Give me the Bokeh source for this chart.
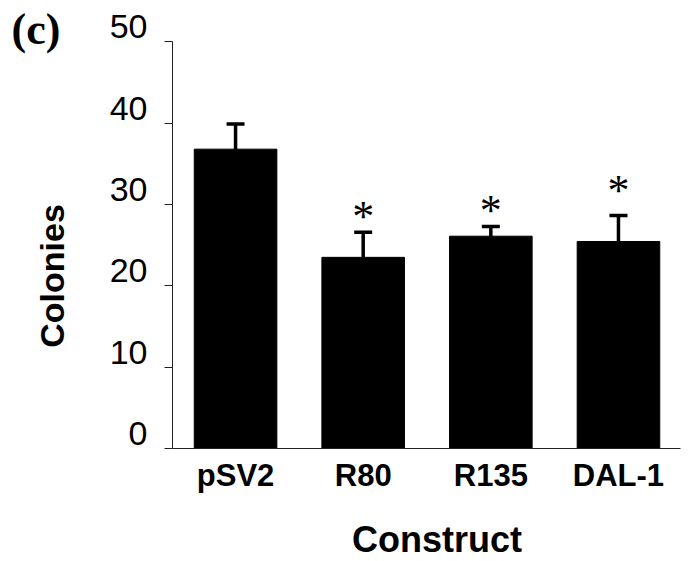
import math
from bokeh.plotting import figure
from bokeh.layouts import row
from bokeh.models import (LinearAxis, Range1d, FixedTicker, Whisker,
                          TeeHead, ColumnDataSource)
from bokeh.core.properties import value
from bokeh.embed import file_html
from bokeh.resources import INLINE

# ---- data ----
constructs = ["pSV2", "R80", "R135", "DAL-1"]
colonies = [36.8, 23.5, 26.1, 25.45]
errors = [3.1, 3.1, 1.2, 3.2]
star_constructs = ["R80", "R135", "DAL-1"]
star_levels = [29.3, 30.0, 32.5]
y_ticks = [0, 10, 20, 30, 40, 50]
panel_tag = "(c)"
y_title = "Colonies"
x_title = "Construct"

# ---- geometry / style (pixels from the top-left of the picture) ----
H = 560
LEFT_W = 100
MAIN_W = 590
FRAME_TOP, FRAME_BOTTOM = 10, 448
FRAME_LEFT, FRAME_RIGHT = 172, 680
PX_PER_UNIT = (447.7 - 41.0) / 50
Y_MAX = (FRAME_BOTTOM - FRAME_TOP) / PX_PER_UNIT
LABEL_SHIFT = 15 / PX_PER_UNIT          # y tick labels sit above their ticks
X0, X1 = -0.494, 3.486
PX_PER_X = (FRAME_RIGHT - FRAME_LEFT) / (X1 - X0)
XTITLE_SHIFT = 10.5 / PX_PER_X
AX_COLOR = "#222222"

x_pos = list(range(len(constructs)))
upper = [c + e for c, e in zip(colonies, errors)]

# ---------------- left strip with panel tag and y title ----------------
left = figure(width=LEFT_W, height=H,
              frame_width=LEFT_W, frame_height=FRAME_BOTTOM - FRAME_TOP,
              x_range=Range1d(0, LEFT_W),
              y_range=Range1d(FRAME_BOTTOM, FRAME_TOP),   # value = px from top
              x_axis_type=None, y_axis_type=None,
              output_backend="svg", toolbar_location=None,
              min_border_left=0, min_border_right=0,
              min_border_top=FRAME_TOP, min_border_bottom=H - FRAME_BOTTOM)
left.title.visible = False
left.grid.visible = False
left.outline_line_color = None
left.background_fill_color = "white"
left.border_fill_color = "white"
left.text(x=[11], y=[28.5], text=[panel_tag], text_font=value("Liberation Serif"),
          text_font_style="bold", text_font_size="44px", text_align="left",
          text_baseline="middle", text_color="black")
left.text(x=[51.7], y=[275.5], text=[y_title], angle=math.pi / 2,
          text_font=value("Liberation Sans"), text_font_style="bold",
          text_font_size="34px", text_align="center", text_baseline="middle",
          text_color="black")

# ---------------- main chart ----------------
p = figure(width=MAIN_W, height=H,
           frame_width=FRAME_RIGHT - FRAME_LEFT,
           frame_height=FRAME_BOTTOM - FRAME_TOP,
           x_range=Range1d(X0, X1), y_range=Range1d(0, Y_MAX),
           output_backend="svg", toolbar_location=None,
           min_border_left=FRAME_LEFT - LEFT_W,
           min_border_right=LEFT_W + MAIN_W - FRAME_RIGHT,
           min_border_top=FRAME_TOP, min_border_bottom=H - FRAME_BOTTOM)
p.title.visible = False
p.xgrid.visible = False
p.ygrid.visible = False
p.outline_line_color = None
p.background_fill_color = "white"
p.border_fill_color = "white"

# tick-only y axis
ya = p.yaxis[0]
ya.ticker = FixedTicker(ticks=y_ticks)
ya.bounds = (0, 50)
ya.major_tick_out = 8
ya.major_tick_in = 0
ya.minor_tick_line_color = None
ya.axis_line_color = AX_COLOR
ya.major_tick_line_color = AX_COLOR
ya.major_label_overrides = {t: "" for t in y_ticks}
ya.major_label_text_font_size = "0px"
ya.major_label_standoff = 0

# label-only y axis (shifted up)
p.extra_y_ranges = {"labels": Range1d(-LABEL_SHIFT, Y_MAX - LABEL_SHIFT)}
yb = LinearAxis(y_range_name="labels", ticker=FixedTicker(ticks=y_ticks))
yb.axis_line_color = None
yb.major_tick_line_color = None
yb.minor_tick_line_color = None
yb.major_tick_out = 0
yb.major_tick_in = 0
yb.major_label_standoff = 17
yb.major_label_text_font = "Liberation Sans"
yb.major_label_text_font_size = "34px"
yb.major_label_text_color = "black"
p.add_layout(yb, "left")

# x axis with category names
xa = p.xaxis[0]
xa.ticker = FixedTicker(ticks=x_pos)
xa.major_label_overrides = {i: n for i, n in zip(x_pos, constructs)}
xa.major_tick_line_color = None
xa.minor_tick_line_color = None
xa.major_tick_out = 0
xa.major_tick_in = 0
xa.axis_line_color = AX_COLOR
xa.major_label_standoff = 9
xa.major_label_text_font = "Liberation Sans"
xa.major_label_text_font_style = "bold"
xa.major_label_text_font_size = "31px"
xa.major_label_text_color = "black"

# x title as a second below axis (slightly right of centre, as in the reference)
p.extra_x_ranges = {"xtitle": Range1d(X0 - XTITLE_SHIFT, X1 - XTITLE_SHIFT)}
xt = LinearAxis(x_range_name="xtitle", ticker=FixedTicker(ticks=[(X0 + X1) / 2]))
xt.major_label_overrides = {(X0 + X1) / 2: x_title}
xt.axis_line_color = None
xt.major_tick_line_color = None
xt.minor_tick_line_color = None
xt.major_tick_out = 0
xt.major_tick_in = 0
xt.major_label_standoff = 23
xt.major_label_text_font = "Liberation Sans"
xt.major_label_text_font_style = "bold"
xt.major_label_text_font_size = "36px"
xt.major_label_text_color = "black"
p.add_layout(xt, "below")

# bars + error bars
src = ColumnDataSource(dict(x=x_pos, top=colonies, upper=upper))
p.vbar(x="x", top="top", bottom=0, width=0.647, source=src,
       fill_color="black", line_color="black")
p.add_layout(Whisker(source=src, base="x", upper="upper", lower="top",
                     dimension="height", line_width=3.5, line_color="black",
                     upper_head=TeeHead(size=18, line_width=3.5, line_color="black"),
                     lower_head=None))

# significance stars
star_src = ColumnDataSource(dict(x=[constructs.index(c) for c in star_constructs],
                                 y=star_levels, t=["*"] * len(star_constructs)))
p.text(x="x", y="y", text="t", source=star_src,
       text_font=value("Liberation Serif"), text_font_size="44px",
       text_align="center", text_baseline="middle", text_color="black",
       y_offset=6)

layout = row(left, p)
open("out.html", "w").write(file_html(layout, INLINE))
